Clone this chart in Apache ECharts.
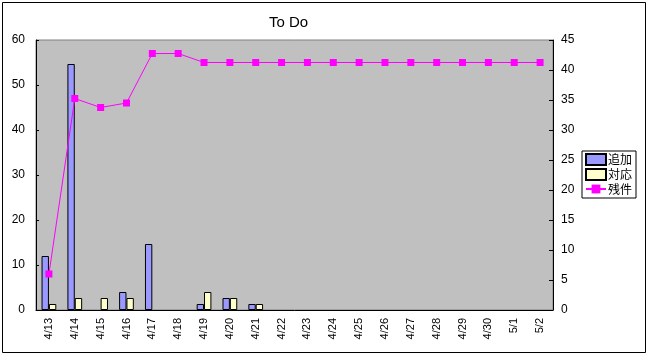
<!DOCTYPE html>
<html>
<head>
<meta charset="utf-8">
<script src="https://cdn.jsdelivr.net/npm/echarts@6/dist/echarts.min.js"></script>
<style>
html,body{margin:0;padding:0;background:#fff;}
#c{width:650px;height:360px;}
</style>
</head>
<body>
<div id="c"></div>
<script>
const categories = ['4/13','4/14','4/15','4/16','4/17','4/18','4/19','4/20','4/21','4/22','4/23','4/24','4/25','4/26','4/27','4/28','4/29','4/30','5/1','5/2'];
const added =     [9, 41, 0, 3, 11, 0, 1, 2, 1, 0, 0, 0, 0, 0, 0, 0, 0, 0, 0, 0];
const handled =   [1, 2, 2, 2, 0, 0, 3, 2, 1, 0, 0, 0, 0, 0, 0, 0, 0, 0, 0, 0];
const remaining = [8, 47, 45, 46, 57, 57, 55, 55, 55, 55, 55, 55, 55, 55, 55, 55, 55, 55, 55, 55];
const seriesNames = ['追加', '対応', '残件'];

// zero-height bars are invisible in the original; skip drawing them
const hideZero = arr => arr.map(v => (v === 0 ? '-' : v));

const FONT = '"Liberation Sans", "Noto Sans CJK JP", sans-serif';
const chart = echarts.init(document.getElementById('c'), null, {renderer: 'canvas'});
chart.setOption({
  animation: false,
  backgroundColor: '#ffffff',
  textStyle: {fontFamily: FONT},
  title: {
    text: 'To Do', left: 264, top: 10,
    textStyle: {fontSize: 15, fontWeight: 'normal', color: '#000', fontFamily: FONT}
  },
  graphic: [{
    type: 'rect', shape: {x: 2.5, y: 2.5, width: 643, height: 350},
    style: {fill: 'none', stroke: '#000', lineWidth: 1}, silent: true, z: -1
  }],
  legend: {
    orient: 'vertical', left: 582, top: 151,
    data: [{name: seriesNames[0], icon: 'rect'}, {name: seriesNames[1], icon: 'rect'}, {name: seriesNames[2]}],
    borderColor: '#000', borderWidth: 1, padding: [2, 4, 3, 3],
    itemGap: 2, itemWidth: 20, itemHeight: 11,
    textStyle: {fontSize: 12, color: '#000', fontFamily: '"Noto Sans CJK JP", sans-serif', padding: [0,0,0,-3]}
  },
  grid: {
    left: 36, top: 40, width: 517, height: 270,
    show: true, backgroundColor: '#C0C0C0', borderColor: '#808080', borderWidth: 1
  },
  xAxis: {
    type: 'category', data: categories, boundaryGap: true,
    axisLine: {lineStyle: {color: '#000', width: 1}},
    axisTick: {inside: true, length: 4, lineStyle: {color: '#000'}},
    axisLabel: {rotate: 90, fontSize: 11, color: '#000', margin: 8, interval: 0}
  },
  yAxis: [{
    type: 'value', min: 0, max: 60, interval: 10, position: 'left',
    axisLine: {show: true, lineStyle: {color: '#000'}},
    axisTick: {show: true, inside: true, length: 3, lineStyle: {color: '#000'}},
    splitLine: {show: false},
    axisLabel: {fontSize: 12, color: '#000', margin: 11}
  }, {
    type: 'value', min: 0, max: 45, interval: 5, position: 'right',
    axisLine: {show: true, lineStyle: {color: '#000'}},
    axisTick: {show: true, inside: true, length: 4, lineStyle: {color: '#000'}},
    splitLine: {show: false},
    axisLabel: {fontSize: 12, color: '#000', margin: 8}
  }],
  series: [{
    name: seriesNames[0], type: 'bar', yAxisIndex: 1, data: hideZero(added),
    barGap: '0%', barCategoryGap: '43%',
    itemStyle: {color: '#9999FF', borderColor: '#000', borderWidth: 1}
  }, {
    name: seriesNames[1], type: 'bar', yAxisIndex: 1, data: hideZero(handled),
    barGap: '0%', barCategoryGap: '43%',
    itemStyle: {color: '#FFFFCC', borderColor: '#000', borderWidth: 1}
  }, {
    name: seriesNames[2], type: 'line', yAxisIndex: 0, data: remaining,
    symbol: 'rect', symbolSize: 7,
    lineStyle: {color: '#FF00FF', width: 1},
    itemStyle: {color: '#FF00FF'}, z: 5
  }]
});
</script>
</body>
</html>
